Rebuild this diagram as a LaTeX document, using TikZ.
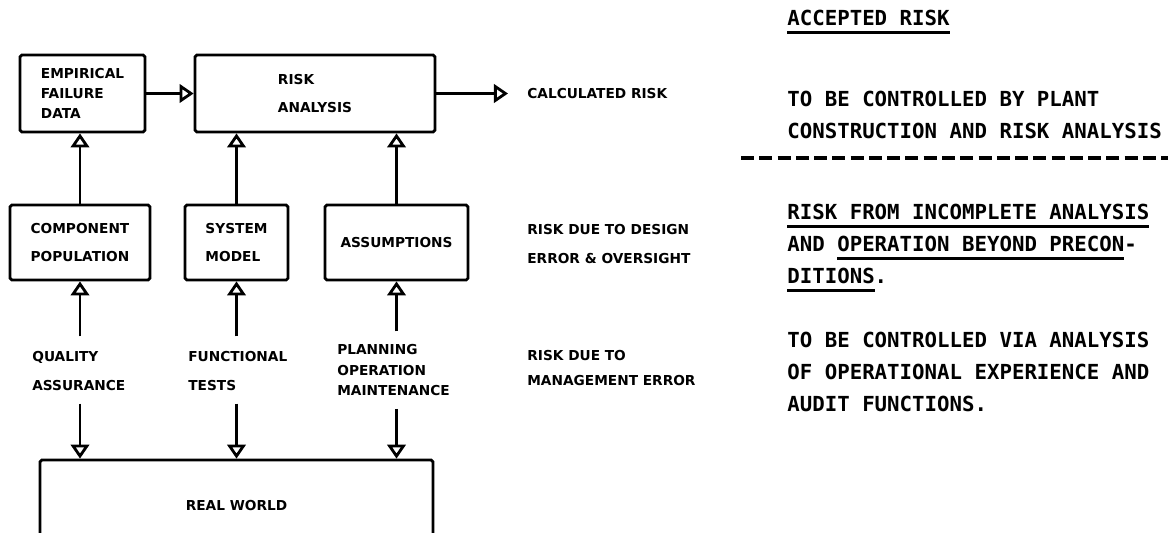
\documentclass[tikz,border=0pt]{standalone}
\usepackage{fontspec}
\newfontfamily\lblfont{DejaVu Sans}
\newfontfamily\typefont{DejaVu Sans Mono}
\usetikzlibrary{arrows.meta}
\newcommand{\thickul}[1]{\sbox0{#1}\rlap{\rule[-4.8pt]{\wd0}{1.6pt}}\usebox0}

\begin{document}
\begin{tikzpicture}[x=0.02cm,y=-0.02cm,
    box/.style={draw,line width=1.6pt,rounded corners=1pt,align=left,inner sep=0pt,font=\lblfont\bfseries\fontsize{7.8}{16}\selectfont},
    lbl/.style={align=left,inner sep=0pt,font=\lblfont\bfseries\fontsize{7.8}{16}\selectfont},
    tight/.style={font=\lblfont\bfseries\fontsize{7.8}{11.5}\selectfont},
    note/.style={anchor=west,align=left,inner sep=0pt,font=\typefont\bfseries\fontsize{11.8}{18.4}\selectfont},
    flow/.style={line width=1.6pt,-{Triangle[open,width=10.5pt,length=8pt]}}]
      \useasboundingbox (0,0) rectangle (1168,532);
      \clip (0,0) rectangle (1168,532);
      \node[box,tight,minimum width=2.5cm,minimum height=1.54cm] (efd) at (82.5,93.5) {EMPIRICAL\\FAILURE\\DATA};
      \node[box,minimum width=4.8cm,minimum height=1.54cm] (ra) at (315,93.5) {RISK\\ANALYSIS};
      \node[box,minimum width=2.8cm,minimum height=1.5cm] (pop) at (80,242.5) {COMPONENT\\POPULATION};
      \node[box,minimum width=2.06cm,minimum height=1.5cm] (sys) at (236.5,242.5) {SYSTEM\\MODEL};
      \node[box,minimum width=2.86cm,minimum height=1.5cm] (ass) at (396.5,242.5) {ASSUMPTIONS};
      \node[box,minimum width=7.86cm,minimum height=1.8cm] (rw) at (236.5,505) {REAL WORLD};
      \node[lbl,anchor=west] (qa) at (32,371) {QUALITY\\ASSURANCE};
      \node[lbl,anchor=west] (ft) at (188,371) {FUNCTIONAL\\TESTS};
      \node[lbl,tight,anchor=west] (pom) at (337,370) {PLANNING\\OPERATION\\MAINTENANCE};
      \node[lbl,anchor=west] (calc) at (527,93.5) {CALCULATED RISK};
      \node[lbl,anchor=west] (rdd) at (527,244) {RISK DUE TO DESIGN\\ERROR \& OVERSIGHT};
      \node[lbl,font=\lblfont\bfseries\fontsize{7.8}{14}\selectfont,anchor=west] (rdm) at (527,368) {RISK DUE TO\\MANAGEMENT ERROR};
      \draw[flow] (efd) -- (ra);
      \draw[flow] (ra.east) -- ([xshift=-0.38cm]calc.west);
      \foreach \b/\t in {pop/efd,sys/ra,ass/ra}{
        \draw[flow] (\b.north) -- (\b.north |- \t.south);
      }
      \foreach \l/\b/\g in {qa/pop/0.3cm,ft/sys/0.3cm,pom/ass/0.26cm}{
        \draw[flow] ([yshift=\g]\l.north -| \b.south) -- (\b.south);
        \draw[flow] ([yshift=-0.26cm]\l.south -| \b.south) -- (rw.north -| \b.south);
      }
      \node[note] (acc) at (787,22) {\thickul{ACCEPTED RISK}};
      \node[note] (plant) at (787,115) {TO BE CONTROLLED BY PLANT\\CONSTRUCTION AND RISK ANALYSIS};
      \draw[line width=2.3pt,dash pattern=on 7.4pt off 3pt] (741,158) -- (1168,158);
      \node[note] (incomp) at (787,248) {\thickul{RISK FROM INCOMPLETE ANALYSIS}\\AND \thickul{OPERATION BEYOND PRECON}-\\\thickul{DITIONS}.};
      \node[note] (audit) at (787,372) {TO BE CONTROLLED VIA ANALYSIS\\OF OPERATIONAL EXPERIENCE AND\\AUDIT FUNCTIONS.};
\end{tikzpicture}
\end{document}
